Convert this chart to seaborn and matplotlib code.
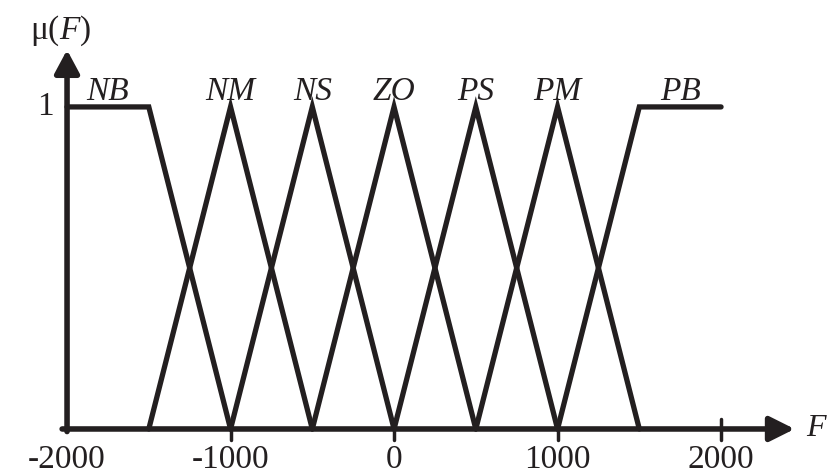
import pandas as pd
import seaborn as sns
import matplotlib.pyplot as plt

# fuzzy sets of F
set_names = ['NB', 'NM', 'NS', 'ZO', 'PS', 'PM', 'PB']
set_x = [
    [-2000, -1500, -1000],
    [-1500, -1000, -500],
    [-1000, -500, 0],
    [-500, 0, 500],
    [0, 500, 1000],
    [500, 1000, 1500],
    [1000, 1500, 2000],
]
set_mu = [
    [1, 1, 0],
    [0, 1, 0],
    [0, 1, 0],
    [0, 1, 0],
    [0, 1, 0],
    [0, 1, 0],
    [0, 1, 1],
]
tick_values = [-2000, -1000, 0, 1000, 2000]
tick_labels = ['-2000', '-1000', '0', '1000', '2000']

ink = '#231f20'

def plot_membership(out='out.png'):
    rows = []
    for name, xs, ms in zip(set_names, set_x, set_mu):
        for i, (x, m) in enumerate(zip(xs, ms)):
            rows.append({'set': name, 'order': i, 'F': x, 'mu': m})
    df = pd.DataFrame(rows)

    sns.set_style('white')
    plt.rcParams['font.family'] = ['Liberation Serif', 'DejaVu Serif']
    plt.rcParams['mathtext.fontset'] = 'custom'
    plt.rcParams['mathtext.it'] = 'Liberation Serif:italic'
    plt.rcParams['mathtext.rm'] = 'Liberation Serif'

    fig = plt.figure(figsize=(8.28, 4.76), dpi=100)
    ax = fig.add_axes([0, 0, 1, 1])
    ax.set_xlim(-2410, 2654)
    ax.set_ylim(-0.146, 1.332)
    ax.axis('off')

    sns.lineplot(data=df, x='F', y='mu', hue='set', units='set', estimator=None,
                 sort=False, palette=[ink] * len(set_names), legend=False,
                 lw=3.8, solid_joinstyle='miter', ax=ax)

    # axes with arrows
    ax.annotate('', xy=(2450, 0), xytext=(-2030, 0),
                arrowprops=dict(arrowstyle='-|>,head_length=1.5,head_width=0.75',
                                lw=4, color=ink, shrinkA=0, shrinkB=0))
    ax.annotate('', xy=(-2000, 1.177), xytext=(-2000, -0.008),
                arrowprops=dict(arrowstyle='-|>,head_length=1.4,head_width=0.75',
                                lw=4, color=ink, shrinkA=0, shrinkB=0))

    # ticks
    for t, lab in zip(tick_values, tick_labels):
        if t > -2000:
            top = 0.03 if t == max(tick_values) else 0
            ax.plot([t, t], [-0.035, top], color=ink, lw=2.5)
        ax.text(t, -0.12, lab, ha='center', va='baseline', fontsize=24, color=ink)

    ax.text(-2080, 1.0, '1', ha='right', va='center', fontsize=24, color=ink)
    ax.text(-2040, 1.235, r'μ($F$)', ha='center', va='center', fontsize=24, color=ink)
    ax.text(2522, 0.0, 'F', ha='left', va='center', fontsize=23, color=ink,
            style='italic')

    # set labels over the plateau/peak
    for name, xs, ms in zip(set_names, set_x, set_mu):
        top = [x for x, m in zip(xs, ms) if m == 1]
        ax.text(sum(top) / len(top), 1.02, name, ha='center', va='baseline',
                fontsize=24, style='italic', color=ink)

    fig.savefig(out, dpi=100)
    plt.close(fig)

if __name__ == "__main__":
    plot_membership()
